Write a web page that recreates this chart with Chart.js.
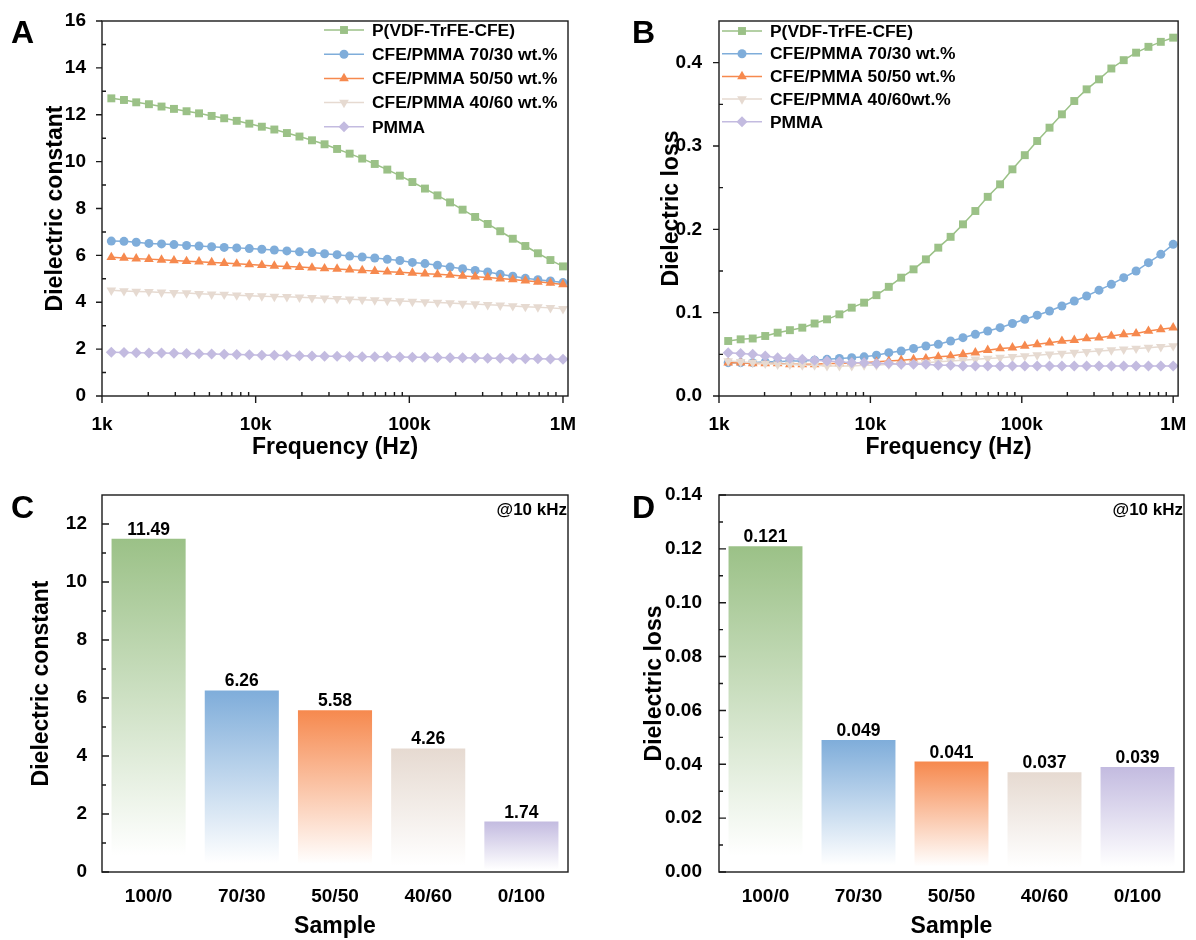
<!DOCTYPE html>
<html>
<head>
<meta charset="utf-8">
<script src="https://cdn.jsdelivr.net/npm/chart.js@4.4.1/dist/chart.umd.min.js"></script>
<style>
  body { margin: 0; background: #fff; }
  #wrap { position: relative; width: 1196px; height: 940px; }
  canvas { position: absolute; }
</style>
</head>
<body>
<div id="wrap">
  <canvas id="chartA" width="598" height="470" style="left:0;top:0"></canvas>
  <canvas id="chartB" width="598" height="470" style="left:598px;top:0"></canvas>
  <canvas id="chartC" width="598" height="470" style="left:0;top:470px"></canvas>
  <canvas id="chartD" width="598" height="470" style="left:598px;top:470px"></canvas>
</div>
<script>
const fontFamily = "'Liberation Sans', Arial, sans-serif";

// frequency sweep (Hz)
const freqHz = [1150, 1390, 1670, 2020, 2440, 2940, 3550, 4280, 5170, 6240, 7530, 9090,
  10970, 13230, 15970, 19280, 23260, 28080, 33880, 40890, 49350, 59570, 71890, 86760,
  104700, 126400, 152500, 184100, 222200, 268100, 323600, 390500, 471300, 568900, 686500, 828600, 1000000];

// dielectric constant vs frequency
const constPure = [12.70, 12.63, 12.53, 12.45, 12.35, 12.25, 12.15, 12.06, 11.95, 11.85, 11.74, 11.62,
  11.49, 11.37, 11.22, 11.07, 10.91, 10.74, 10.54, 10.34, 10.13, 9.90, 9.66, 9.40,
  9.13, 8.85, 8.56, 8.26, 7.95, 7.64, 7.34, 7.03, 6.71, 6.40, 6.09, 5.80, 5.53];
const const7030 = [6.61, 6.60, 6.56, 6.51, 6.49, 6.46, 6.42, 6.40, 6.37, 6.34, 6.32, 6.29,
  6.26, 6.23, 6.19, 6.15, 6.12, 6.07, 6.03, 5.97, 5.93, 5.89, 5.83, 5.78,
  5.70, 5.65, 5.58, 5.50, 5.43, 5.36, 5.29, 5.19, 5.11, 5.02, 4.96, 4.91, 4.84];
const const5050 = [5.92, 5.89, 5.86, 5.84, 5.81, 5.78, 5.75, 5.73, 5.70, 5.67, 5.64, 5.61,
  5.58, 5.55, 5.53, 5.50, 5.47, 5.44, 5.42, 5.39, 5.36, 5.33, 5.30, 5.28,
  5.25, 5.22, 5.19, 5.16, 5.12, 5.09, 5.06, 5.01, 4.97, 4.92, 4.87, 4.82, 4.76];
const const4060 = [4.51, 4.48, 4.46, 4.45, 4.42, 4.40, 4.39, 4.36, 4.34, 4.33, 4.30, 4.28,
  4.26, 4.24, 4.23, 4.21, 4.19, 4.17, 4.15, 4.13, 4.11, 4.09, 4.07, 4.05,
  4.03, 4.01, 3.99, 3.97, 3.94, 3.92, 3.89, 3.87, 3.84, 3.81, 3.79, 3.76, 3.72];
const constPMMA = [1.87, 1.86, 1.85, 1.84, 1.83, 1.82, 1.81, 1.80, 1.79, 1.78, 1.77, 1.76,
  1.74, 1.74, 1.73, 1.72, 1.71, 1.70, 1.70, 1.69, 1.68, 1.67, 1.67, 1.66,
  1.65, 1.65, 1.64, 1.63, 1.63, 1.62, 1.61, 1.61, 1.60, 1.59, 1.59, 1.58, 1.57];

// dielectric loss vs frequency
const lossPure = [0.066, 0.068, 0.069, 0.072, 0.076, 0.079, 0.082, 0.087, 0.092, 0.098, 0.106, 0.112,
  0.121, 0.131, 0.142, 0.152, 0.164, 0.178, 0.191, 0.206, 0.222, 0.239, 0.254, 0.272,
  0.289, 0.306, 0.322, 0.338, 0.354, 0.368, 0.380, 0.393, 0.403, 0.412, 0.419, 0.425, 0.430];
const loss7030 = [0.040, 0.040, 0.040, 0.041, 0.041, 0.042, 0.042, 0.043, 0.044, 0.045, 0.046, 0.047,
  0.049, 0.052, 0.054, 0.057, 0.060, 0.062, 0.066, 0.070, 0.074, 0.078, 0.082, 0.087,
  0.092, 0.097, 0.102, 0.108, 0.114, 0.120, 0.127, 0.134, 0.142, 0.150, 0.160, 0.170, 0.182];
const loss5050 = [0.040, 0.040, 0.039, 0.039, 0.039, 0.038, 0.038, 0.038, 0.039, 0.039, 0.040, 0.040,
  0.041, 0.042, 0.043, 0.044, 0.045, 0.047, 0.048, 0.050, 0.052, 0.055, 0.057, 0.058,
  0.060, 0.062, 0.064, 0.066, 0.067, 0.069, 0.070, 0.072, 0.074, 0.075, 0.078, 0.080, 0.082];
const loss4060 = [0.042, 0.041, 0.040, 0.039, 0.038, 0.038, 0.037, 0.037, 0.036, 0.036, 0.036, 0.037,
  0.037, 0.038, 0.038, 0.039, 0.040, 0.041, 0.042, 0.043, 0.044, 0.045, 0.046, 0.047,
  0.048, 0.049, 0.050, 0.051, 0.052, 0.053, 0.054, 0.055, 0.056, 0.057, 0.058, 0.059, 0.060];
const lossPMMA = [0.052, 0.051, 0.050, 0.048, 0.046, 0.045, 0.044, 0.043, 0.042, 0.041, 0.040, 0.040,
  0.039, 0.039, 0.038, 0.038, 0.038, 0.037, 0.037, 0.036, 0.036, 0.036, 0.036, 0.036,
  0.036, 0.036, 0.036, 0.036, 0.036, 0.036, 0.036, 0.036, 0.036, 0.036, 0.036, 0.036, 0.036];

const seriesLabelsA = ['P(VDF-TrFE-CFE)', 'CFE/PMMA 70/30 wt.%', 'CFE/PMMA 50/50 wt.%', 'CFE/PMMA 40/60 wt.%', 'PMMA'];
const seriesLabelsB = ['P(VDF-TrFE-CFE)', 'CFE/PMMA 70/30 wt.%', 'CFE/PMMA 50/50 wt.%', 'CFE/PMMA 40/60wt.%', 'PMMA'];
const seriesColors = ['#9bc187', '#7fadda', '#f6894e', '#e6dad1', '#c3bbe0'];

// values at 10 kHz
const samples = ['100/0', '70/30', '50/50', '40/60', '0/100'];
const constAt10k = [11.49, 6.26, 5.58, 4.26, 1.74];
const lossAt10k = [0.121, 0.049, 0.041, 0.037, 0.039];

// axis ticks
const freqTicks = [1e3, 1e4, 1e5, 1e6];
const freqTickLabels = ['1k', '10k', '100k', '1M'];
const constTicksA = [0, 2, 4, 6, 8, 10, 12, 14, 16];
const lossTicksB = [0, 0.1, 0.2, 0.3, 0.4];
const constTicksC = [0, 2, 4, 6, 8, 10, 12];
const lossTicksD = [0, 0.02, 0.04, 0.06, 0.08, 0.10, 0.12, 0.14];

Chart.defaults.font.family = fontFamily;
Chart.defaults.font.weight = 'bold';
Chart.defaults.color = '#000';

function logMinors() {
  const out = [];
  [1e3, 1e4, 1e5].forEach(d => { for (let m = 2; m <= 9; m++) out.push(m * d); });
  return out;
}
function midpoints(ticks, top) {
  const step = ticks[1] - ticks[0];
  return ticks.map(v => v + step / 2).filter(v => v < top);
}

// box around plot area and Origin style tick marks
const frameTicks = {
  id: 'frameTicks',
  afterDatasetsDraw(chart, args, opts) {
    const ctx = chart.ctx, a = chart.chartArea, sx = chart.scales.x, sy = chart.scales.y;
    const majorLen = opts.majorIn ? 7 : -6;
    ctx.save();
    ctx.strokeStyle = '#1a1a1a';
    ctx.lineWidth = 1.4;
    ctx.beginPath();
    (opts.xMajor || []).forEach(v => { const p = sx.getPixelForValue(v); ctx.moveTo(p, a.bottom); ctx.lineTo(p, a.bottom + 7); });
    (opts.xMinor || []).forEach(v => { const p = sx.getPixelForValue(v); ctx.moveTo(p, a.bottom); ctx.lineTo(p, a.bottom - 4); });
    (opts.yMajor || []).forEach(v => { const p = sy.getPixelForValue(v); ctx.moveTo(a.left, p); ctx.lineTo(a.left + majorLen, p); });
    (opts.yMinor || []).forEach(v => { const p = sy.getPixelForValue(v); ctx.moveTo(a.left, p); ctx.lineTo(a.left + 4, p); });
    ctx.stroke();
    ctx.strokeRect(a.left, a.top, a.right - a.left, a.bottom - a.top);
    ctx.restore();
  }
};

// legend with a short line through the marker, drawn inside the plot
const lineLegend = {
  id: 'lineLegend',
  afterDatasetsDraw(chart, args, opts) {
    if (!opts.x) return;
    const ctx = chart.ctx;
    ctx.save();
    chart.data.datasets.forEach((ds, i) => {
      const y = opts.y + i * opts.gap;
      ctx.strokeStyle = ds.borderColor;
      ctx.lineWidth = 1.5;
      ctx.beginPath();
      ctx.moveTo(opts.x, y);
      ctx.lineTo(opts.x + 40, y);
      ctx.stroke();
      ctx.fillStyle = ds.pointBackgroundColor;
      Chart.helpers.drawPoint(ctx, {pointStyle: ds.pointStyle, rotation: ds.pointRotation, radius: ds.pointRadius, borderWidth: 0}, opts.x + 20, y);
      ctx.fillStyle = '#000';
      ctx.font = 'bold 17.4px ' + fontFamily;
      ctx.textAlign = 'left';
      ctx.textBaseline = 'middle';
      ctx.fillText(ds.label, opts.x + 48, y + 1);
    });
    ctx.restore();
  }
};

// panel letter, bar value labels and the "@10 kHz" note
const panelText = {
  id: 'panelText',
  afterDraw(chart, args, opts) {
    const ctx = chart.ctx, a = chart.chartArea;
    ctx.save();
    ctx.fillStyle = '#000';
    ctx.textBaseline = 'alphabetic';
    if (opts.tag) {
      ctx.font = 'bold 32px ' + fontFamily;
      ctx.textAlign = 'left';
      ctx.fillText(opts.tag, opts.tagX, opts.tagY);
    }
    if (opts.note) {
      ctx.font = 'bold 17px ' + fontFamily;
      ctx.textAlign = 'right';
      ctx.fillText(opts.note, a.right - 1, a.top + 20);
    }
    if (opts.digits) {
      const meta = chart.getDatasetMeta(0);
      const vals = chart.data.datasets[0].data;
      ctx.font = 'bold 17.5px ' + fontFamily;
      ctx.textAlign = 'center';
      meta.data.forEach((bar, i) => ctx.fillText(vals[i].toFixed(opts.digits), bar.x, bar.y - 4));
    }
    ctx.restore();
  }
};

Chart.register(frameTicks, lineLegend, panelText);

const markerStyles = [
  {pointStyle: 'rect', pointRadius: 5.6, pointRotation: 0},
  {pointStyle: 'circle', pointRadius: 4.5, pointRotation: 0},
  {pointStyle: 'triangle', pointRadius: 5.6, pointRotation: 0},
  {pointStyle: 'triangle', pointRadius: 5.6, pointRotation: 180},
  {pointStyle: 'rectRot', pointRadius: 5.5, pointRotation: 0}
];

function lineSets(allValues, labels) {
  return allValues.map((values, i) => Object.assign({
    label: labels[i],
    data: freqHz.map((f, k) => ({x: f, y: values[k]})),
    borderColor: seriesColors[i],
    backgroundColor: seriesColors[i],
    pointBackgroundColor: seriesColors[i],
    pointBorderWidth: 0,
    borderWidth: 1.5,
    order: 5 - i
  }, markerStyles[i]));
}

function barFill(c) {
  const color = seriesColors[c.dataIndex];
  const chart = c.chart;
  if (!chart.chartArea || !c.parsed) return color;
  const y = chart.scales.y;
  const g = chart.ctx.createLinearGradient(0, y.getPixelForValue(c.parsed.y), 0, y.getPixelForValue(0));
  g.addColorStop(0, color);
  g.addColorStop(0.95, '#ffffff');
  return g;
}

const titleFont = {size: 23, weight: 'bold'};
const tickFont = {size: 19, weight: 'bold'};

function setTicks(values) {
  return s => { s.ticks = values.map(v => ({value: v})); };
}

function makeLineChart(id, opt) {
  return new Chart(document.getElementById(id), {
    type: 'line',
    data: {datasets: opt.datasets},
    options: {
      responsive: false,
      animation: false,
      layout: {padding: {left: 0, top: 21, right: opt.padRight, bottom: 0}},
      plugins: {
        legend: {display: false},
        tooltip: {enabled: false},
        frameTicks: {xMajor: freqTicks, xMinor: logMinors(), yMajor: opt.yTicks, yMinor: midpoints(opt.yTicks, opt.yMax)},
        lineLegend: opt.legend,
        panelText: {tag: opt.tag, tagX: opt.tagX, tagY: 43}
      },
      scales: {
        x: {
          type: 'logarithmic', min: 1000, max: 1.078e6,
          afterBuildTicks: setTicks(freqTicks),
          afterFit: s => { s.height = 74; },
          grid: {display: false}, border: {display: false},
          ticks: {font: tickFont, padding: 9.5, maxRotation: 0, autoSkip: false,
            callback: v => freqTickLabels[freqTicks.indexOf(v)]},
          title: {display: true, text: 'Frequency (Hz)', font: titleFont, padding: {top: 0, bottom: 9}}
        },
        y: {
          min: 0, max: opt.yMax,
          afterBuildTicks: setTicks(opt.yTicks),
          afterFit: s => { s.width = opt.axisLeft; },
          grid: {display: false}, border: {display: false},
          ticks: {font: tickFont, padding: opt.yPad, callback: opt.yFormat},
          title: {display: true, text: opt.yTitle, font: titleFont, padding: {top: opt.yTitlePad, bottom: 0}}
        }
      }
    }
  });
}

function makeBarChart(id, opt) {
  return new Chart(document.getElementById(id), {
    type: 'bar',
    data: {labels: samples, datasets: [{data: opt.values, backgroundColor: barFill, borderWidth: 0,
      barPercentage: 0.795, categoryPercentage: 1}]},
    options: {
      responsive: false,
      animation: false,
      layout: {padding: {left: 0, top: 25, right: opt.padRight, bottom: 0}},
      plugins: {
        legend: {display: false},
        tooltip: {enabled: false},
        frameTicks: {yMajor: opt.yTicks, yMinor: midpoints(opt.yTicks, opt.yMax), majorIn: true},
        panelText: {tag: opt.tag, tagX: opt.tagX, tagY: 48, note: '@10 kHz', digits: opt.digits}
      },
      scales: {
        x: {
          afterFit: s => { s.height = 68; },
          grid: {display: false}, border: {display: false},
          ticks: {font: tickFont, padding: 5.5, maxRotation: 0},
          title: {display: true, text: 'Sample', font: titleFont, padding: {top: 0, bottom: 0}}
        },
        y: {
          min: 0, max: opt.yMax,
          afterBuildTicks: setTicks(opt.yTicks),
          afterFit: s => { s.width = opt.axisLeft; },
          grid: {display: false}, border: {display: false},
          ticks: {font: tickFont, padding: opt.yPad, callback: opt.yFormat},
          title: {display: true, text: opt.yTitle, font: titleFont, padding: {top: opt.yTitlePad, bottom: 0}}
        }
      }
    }
  });
}

makeLineChart('chartA', {
  datasets: lineSets([constPure, const7030, const5050, const4060, constPMMA], seriesLabelsA),
  yTicks: constTicksA, yMax: 16, yFormat: v => String(v),
  axisLeft: 102, padRight: 30, yPad: 8, yTitle: 'Dielectric constant', yTitlePad: 42,
  legend: {x: 324, y: 30, gap: 24.2}, tag: 'A', tagX: 11
});

makeLineChart('chartB', {
  datasets: lineSets([lossPure, loss7030, loss5050, loss4060, lossPMMA], seriesLabelsB),
  yTicks: lossTicksB, yMax: 0.45, yFormat: v => v.toFixed(1),
  axisLeft: 121, padRight: 12, yPad: 9, yTitle: 'Dielectric loss', yTitlePad: 60,
  legend: {x: 124, y: 31, gap: 22.7}, tag: 'B', tagX: 34
});

makeBarChart('chartC', {
  values: constAt10k, digits: 2,
  yTicks: constTicksC, yMax: 13, yFormat: v => String(v),
  axisLeft: 102, padRight: 30, yPad: 7, yTitle: 'Dielectric constant', yTitlePad: 28,
  tag: 'C', tagX: 11
});

makeBarChart('chartD', {
  values: lossAt10k, digits: 3,
  yTicks: lossTicksD, yMax: 0.14, yFormat: v => v.toFixed(2),
  axisLeft: 121, padRight: 12, yPad: 9, yTitle: 'Dielectric loss', yTitlePad: 43,
  tag: 'D', tagX: 34
});
</script>
</body>
</html>
